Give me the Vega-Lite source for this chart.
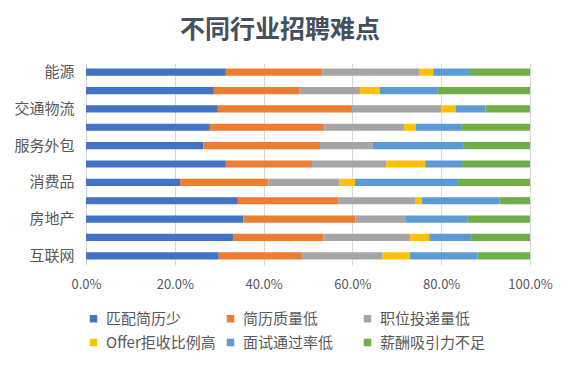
{
  "$schema": "https://vega.github.io/schema/vega-lite/v6.json",
  "width": 444,
  "height": 202,
  "autosize": {"type": "none"},
  "padding": {"left": 86, "top": 63, "right": 45, "bottom": 101},
  "background": "white",
  "title": {
    "text": "不同行业招聘难点",
    "anchor": "middle",
    "frame": "group",
    "dx": -28,
    "offset": 20,
    "fontSize": 25,
    "fontWeight": "bold",
    "font": "Noto Sans CJK SC",
    "color": "#44505f"
  },
  "config": {
    "font": "Noto Sans CJK SC",
    "view": {"stroke": null}
  },
  "data": {
    "values": [
      {"行业": "能源", "匹配简历少": 31.5, "简历质量低": 21.7, "职位投递量低": 21.8, "Offer拒收比例高": 3.2, "面试通过率低": 8.3, "薪酬吸引力不足": 13.5},
      {"行业": "制造业", "匹配简历少": 28.8, "简历质量低": 19.2, "职位投递量低": 13.7, "Offer拒收比例高": 4.5, "面试通过率低": 12.9, "薪酬吸引力不足": 20.9},
      {"行业": "交通物流", "匹配简历少": 29.7, "简历质量低": 30.2, "职位投递量低": 20.1, "Offer拒收比例高": 3.3, "面试通过率低": 6.7, "薪酬吸引力不足": 10.0},
      {"行业": "医疗健康", "匹配简历少": 27.9, "简历质量低": 25.8, "职位投递量低": 17.9, "Offer拒收比例高": 2.7, "面试通过率低": 10.2, "薪酬吸引力不足": 15.5},
      {"行业": "服务外包", "匹配简历少": 26.4, "简历质量低": 26.3, "职位投递量低": 11.9, "Offer拒收比例高": 0, "面试通过率低": 20.5, "薪酬吸引力不足": 14.9},
      {"行业": "金融", "匹配简历少": 31.5, "简历质量低": 19.4, "职位投递量低": 16.7, "Offer拒收比例高": 8.8, "面试通过率低": 8.3, "薪酬吸引力不足": 15.3},
      {"行业": "消费品", "匹配简历少": 21.2, "简历质量低": 19.9, "职位投递量低": 15.9, "Offer拒收比例高": 3.6, "面试通过率低": 23.2, "薪酬吸引力不足": 16.2},
      {"行业": "教育培训", "匹配简历少": 34.2, "简历质量低": 22.6, "职位投递量低": 17.3, "Offer拒收比例高": 1.6, "面试通过率低": 17.4, "薪酬吸引力不足": 6.9},
      {"行业": "房地产", "匹配简历少": 35.4, "简历质量低": 25.3, "职位投递量低": 11.4, "Offer拒收比例高": 0, "面试通过率低": 13.9, "薪酬吸引力不足": 14.0},
      {"行业": "汽车", "匹配简历少": 33.1, "简历质量低": 20.4, "职位投递量低": 19.5, "Offer拒收比例高": 4.3, "面试通过率低": 9.6, "薪酬吸引力不足": 13.1},
      {"行业": "互联网", "匹配简历少": 29.9, "简历质量低": 18.8, "职位投递量低": 18.1, "Offer拒收比例高": 6.2, "面试通过率低": 15.2, "薪酬吸引力不足": 11.8}
    ]
  },
  "transform": [
    {"fold": ["匹配简历少", "简历质量低", "职位投递量低", "Offer拒收比例高", "面试通过率低", "薪酬吸引力不足"], "as": ["难点", "比例"]},
    {"calculate": "indexof(['匹配简历少','简历质量低','职位投递量低','Offer拒收比例高','面试通过率低','薪酬吸引力不足'], datum['难点'])", "as": "序"}
  ],
  "mark": {"type": "bar", "stroke": null},
  "encoding": {
    "y": {
      "field": "行业",
      "type": "nominal",
      "sort": ["能源", "制造业", "交通物流", "医疗健康", "服务外包", "金融", "消费品", "教育培训", "房地产", "汽车", "互联网"],
      "scale": {"paddingInner": 0.61, "paddingOuter": 0.305},
      "axis": {
        "title": null,
        "domain": false,
        "ticks": false,
        "grid": false,
        "labelPadding": 12,
        "labelFontSize": 15,
        "labelColor": "#595959",
        "labelExpr": "indexof(['能源','交通物流','服务外包','消费品','房地产','互联网'], datum.value) >= 0 ? datum.value : ''"
      }
    },
    "x": {
      "field": "比例",
      "type": "quantitative",
      "stack": "normalize",
      "scale": {"domain": [0, 1], "nice": false},
      "axis": {
        "title": null,
        "values": [0, 0.2, 0.4, 0.6, 0.8, 1],
        "labelExpr": "format(datum.value, '.1%')",
        "domain": false,
        "ticks": false,
        "grid": true,
        "gridColor": "#d9d9d9",
        "gridWidth": 1,
        "labelPadding": 13,
        "labelFontSize": 13,
        "labelColor": "#595959",
        "labelFlush": false
      }
    },
    "order": {"field": "序", "type": "quantitative", "sort": "ascending"},
    "color": {
      "field": "难点",
      "type": "nominal",
      "sort": ["匹配简历少", "简历质量低", "职位投递量低", "Offer拒收比例高", "面试通过率低", "薪酬吸引力不足"],
      "scale": {
        "domain": ["匹配简历少", "简历质量低", "职位投递量低", "Offer拒收比例高", "面试通过率低", "薪酬吸引力不足"],
        "range": ["#4472C4", "#ED7D31", "#A5A5A5", "#FFC000", "#5B9BD5", "#70AD47"]
      },
      "legend": {
        "title": null,
        "orient": "none",
        "legendX": 0,
        "legendY": 248,
        "direction": "horizontal",
        "columns": 3,
        "gridAlign": "all",
        "columnPadding": 7,
        "rowPadding": 8,
        "symbolType": "square",
        "symbolSize": 56,
        "symbolStrokeWidth": 0,
        "labelFontSize": 15,
        "labelColor": "#595959",
        "labelOffset": 5,
        "labelLimit": 200
      }
    }
  }
}
